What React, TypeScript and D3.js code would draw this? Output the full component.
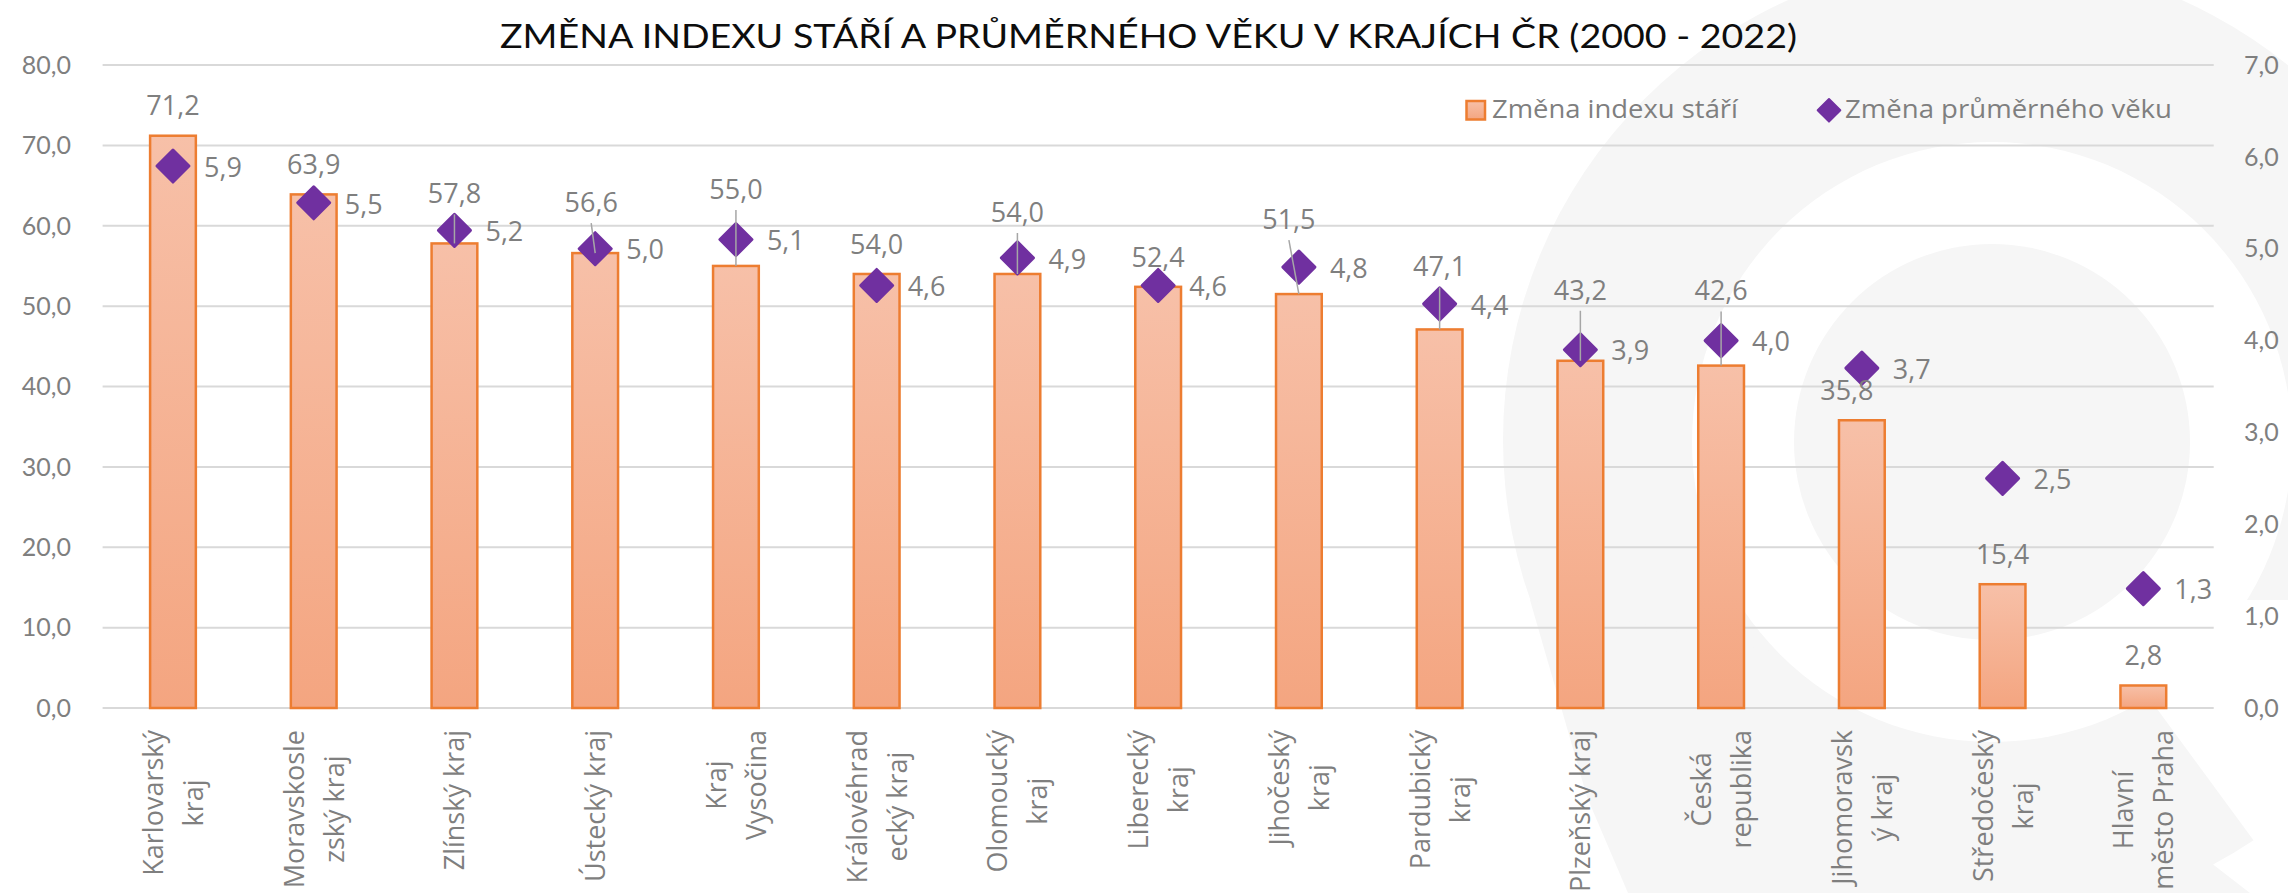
import * as d3 from "d3";
import React from "react";

const W = 2288;
const H = 893;

// data
const regions = [
  ["Karlovarský", "kraj"],
  ["Moravskosle", "zský kraj"],
  ["Zlínský kraj"],
  ["Ústecký kraj"],
  ["Kraj", "Vysočina"],
  ["Královéhrad", "ecký kraj"],
  ["Olomoucký", "kraj"],
  ["Liberecký", "kraj"],
  ["Jihočeský", "kraj"],
  ["Pardubický", "kraj"],
  ["Plzeňský kraj"],
  ["Česká", "republika"],
  ["Jihomoravsk", "ý kraj"],
  ["Středočeský", "kraj"],
  ["Hlavní", "město Praha"],
];
const indexChange = [71.2, 63.9, 57.8, 56.6, 55.0, 54.0, 54.0, 52.4, 51.5, 47.1, 43.2, 42.6, 35.8, 15.4, 2.8];
const ageChange = [5.9, 5.5, 5.2, 5.0, 5.1, 4.6, 4.9, 4.6, 4.8, 4.4, 3.9, 4.0, 3.7, 2.5, 1.3];
const leftTicks = [0, 10, 20, 30, 40, 50, 60, 70, 80];
const rightTicks = [0, 1, 2, 3, 4, 5, 6, 7];
const title = "ZMĚNA INDEXU STÁŘÍ A PRŮMĚRNÉHO VĚKU V KRAJÍCH ČR (2000 - 2022)";
const legendBar = "Změna indexu stáří";
const legendDot = "Změna průměrného věku";

// manually moved bar labels (px), as in the original
const barLabelShift = [
  [0, 0], [0, 0], [0, -20], [-4, -21], [0, -47], [0, 0], [0, -32], [0, 0],
  [-10, -45], [0, -33], [0, -41], [0, -45], [-15, 0], [0, 0], [0, 0],
];

const plot = { left: 102.6, right: 2213.7, top: 65, bottom: 708 };
const FONT = "Lato, 'Open Sans', sans-serif";
const LABEL_FONT = "'Open Sans', 'Noto Sans', sans-serif";
const GREY = "#7f7f7f";
const ORANGE = "#ED7D31";
const PURPLE = "#7030A0";

const fmt = (v: number) => d3.format(".1f")(v).replace(".", ",");

let ctx: CanvasRenderingContext2D | null = null;
const textWidth = (s: string, font: string) => {
  if (!ctx) ctx = document.createElement("canvas").getContext("2d");
  ctx!.font = font;
  return ctx!.measureText(s).width;
};

const x = d3
  .scaleBand<number>()
  .domain(d3.range(regions.length))
  .range([plot.left, plot.right]);
const yL = d3.scaleLinear().domain([0, 80]).range([plot.bottom, plot.top]);
const yR = d3.scaleLinear().domain([0, 7]).range([plot.bottom, plot.top]);

const diamond = d3.symbol().type(d3.symbolSquare).size(512);
const legendDiamond = d3.symbol().type(d3.symbolSquare).size(256);

const App = () => {
  const step = x.bandwidth();
  const barW = step * 0.325;
  const cx = (i: number) => x(i)! + step / 2;

  return (
    <svg
      width={W}
      height={H}
      style={{ position: "absolute", left: 0, top: 0, display: "block", background: "#fff" }}
      fontFamily={FONT}
    >
      <defs>
        <linearGradient id="barFill" x1="0" y1="0" x2="0" y2="1">
          <stop offset="0" stopColor="#F7C0A8" />
          <stop offset="1" stopColor="#F4A580" />
        </linearGradient>
      </defs>

      {/* faint logo in the background */}
      <g>
        <circle cx={1985} cy={440} r={482} fill="#f6f6f6" />
        <path d="M1530,600 L1587,797 L1628,893 L2250,893 L2000,700 Z" fill="#f6f6f6" />
        <circle cx={1992} cy={442} r={300} fill="#ffffff" />
        <circle cx={1992} cy={442} r={198} fill="#f6f6f6" />
        <path d="M2130,672 L2215,600 L2290,600 L2290,890 Z" fill="#ffffff" />
      </g>

      {/* title */}
      <text
        x={1148.5}
        y={48}
        textAnchor="middle"
        fontSize={32}
        fill="#0d0d0d"
        textLength={1297}
        lengthAdjust="spacingAndGlyphs"
      >
        {title}
      </text>

      {/* gridlines */}
      {leftTicks.map((t) => (
        <line
          key={t}
          x1={plot.left}
          x2={plot.right}
          y1={yL(t)}
          y2={yL(t)}
          stroke="#d9d9d9"
          strokeWidth={2}
        />
      ))}

      {/* left axis */}
      {leftTicks.map((t) => (
        <text key={t} x={71} y={yL(t)} dy="0.35em" textAnchor="end" fontSize={25} fill={GREY}>
          {fmt(t)}
        </text>
      ))}
      {/* right axis */}
      {rightTicks.map((t) => (
        <text key={t} x={2244} y={yR(t)} dy="0.35em" textAnchor="start" fontSize={25} fill={GREY}>
          {fmt(t)}
        </text>
      ))}

      {/* bars */}
      {indexChange.map((v, i) => (
        <rect
          key={i}
          x={cx(i) - barW / 2}
          y={yL(v)}
          width={barW}
          height={yL(0) - yL(v)}
          fill="url(#barFill)"
          stroke={ORANGE}
          strokeWidth={2.5}
        />
      ))}

      {/* diamonds */}
      {ageChange.map((v, i) => (
        <path
          key={i}
          d={diamond()!}
          transform={`translate(${cx(i)},${yR(v)}) rotate(45)`}
          fill={PURPLE}
          stroke={PURPLE}
          strokeWidth={3}
          strokeLinejoin="round"
        />
      ))}

      {/* leader lines for moved bar labels */}
      {indexChange.map((v, i) => {
        const [dx, dy] = barLabelShift[i];
        if (dy > -15) return null;
        const ly = yL(v) - 30 + dy;
        return (
          <line
            key={i}
            x1={cx(i) + dx}
            y1={ly + 21}
            x2={cx(i)}
            y2={yL(v)}
            stroke="#a6a6a6"
            strokeWidth={1.5}
          />
        );
      })}

      {/* bar labels */}
      {indexChange.map((v, i) => {
        const [dx, dy] = barLabelShift[i];
        return (
          <text
            key={i}
            x={cx(i) + dx}
            y={yL(v) - 30 + dy}
            dy="0.36em"
            textAnchor="middle"
            fontSize={27}
            fontFamily={LABEL_FONT}
            fill={GREY}
          >
            {fmt(v)}
          </text>
        );
      })}

      {/* diamond labels */}
      {ageChange.map((v, i) => (
        <text
          key={i}
          x={cx(i) + 31}
          y={yR(v) + 1}
          dy="0.36em"
          fontSize={27}
          fontFamily={LABEL_FONT}
          fill={GREY}
        >
          {fmt(v)}
        </text>
      ))}

      {/* category labels */}
      {regions.map((lines, i) => {
        const font = `27px ${LABEL_FONT}`;
        const maxLen = d3.max(lines, (l) => textWidth(l, font))!;
        const yc = 730 + maxLen / 2;
        const n = lines.length;
        return (
          <g key={i}>
            {lines.map((l, k) => (
              <text
                key={k}
                transform={`translate(${cx(i) + 10 + (k - (n - 1) / 2) * 40},${yc}) rotate(-90)`}
                textAnchor="middle"
                fontSize={27}
                fontFamily={LABEL_FONT}
                fill={GREY}
              >
                {l}
              </text>
            ))}
          </g>
        );
      })}

      {/* legend */}
      <rect x={1466.5} y={101} width={18.5} height={18.5} fill="url(#barFill)" stroke={ORANGE} strokeWidth={2.5} />
      <text
        x={1492}
        y={118}
        fontSize={26}
        fontFamily={LABEL_FONT}
        fill={GREY}
        textLength={246}
        lengthAdjust="spacingAndGlyphs"
      >
        {legendBar}
      </text>
      <path
        d={legendDiamond()!}
        transform="translate(1829,110.3) rotate(45)"
        fill={PURPLE}
        stroke={PURPLE}
        strokeWidth={2}
        strokeLinejoin="round"
      />
      <text
        x={1845}
        y={118}
        fontSize={26}
        fontFamily={LABEL_FONT}
        fill={GREY}
        textLength={327}
        lengthAdjust="spacingAndGlyphs"
      >
        {legendDot}
      </text>
    </svg>
  );
};

export default App;
